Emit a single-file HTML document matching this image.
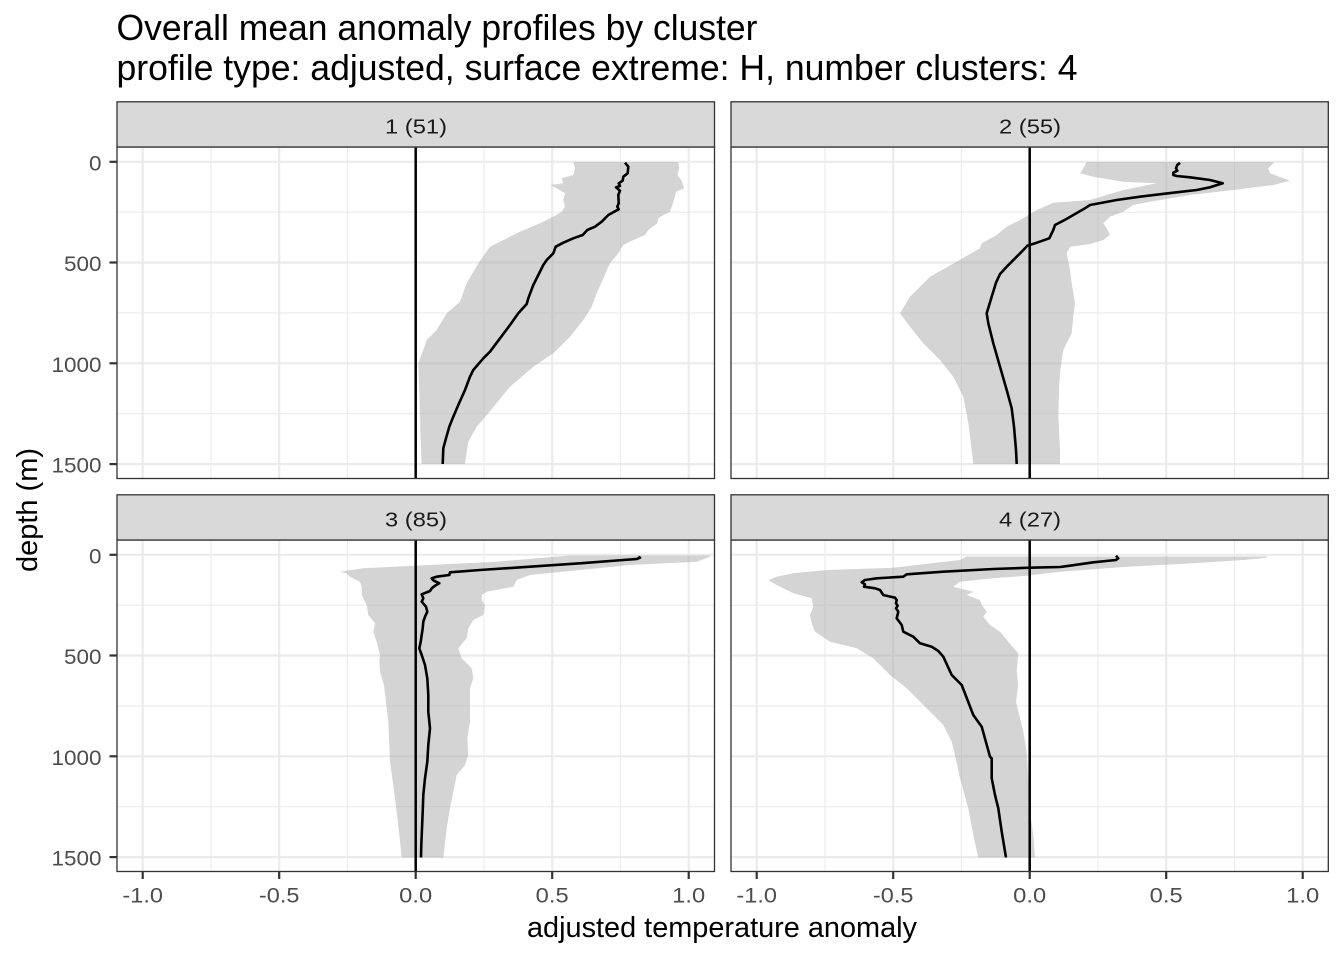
<!DOCTYPE html>
<html><head><meta charset="utf-8"><style>
html,body{margin:0;padding:0;background:#fff;}
svg{display:block;font-family:"Liberation Sans",Arial,sans-serif;}
</style></head><body>
<svg width="1344" height="960" viewBox="0 0 1344 960" xmlns="http://www.w3.org/2000/svg">
<defs>
<g id="grid">
  <rect x="117" y="147" width="597.5" height="331.5" fill="#fff"/>
  <g stroke="#ebebeb" stroke-width="1.1">
    <line x1="117" x2="714.5" y1="212.2" y2="212.2"/>
    <line x1="117" x2="714.5" y1="312.9" y2="312.9"/>
    <line x1="117" x2="714.5" y1="413.7" y2="413.7"/>
    <line y1="147" y2="478.5" x1="210.95" x2="210.95"/>
    <line y1="147" y2="478.5" x1="347.45" x2="347.45"/>
    <line y1="147" y2="478.5" x1="484" x2="484"/>
    <line y1="147" y2="478.5" x1="620.5" x2="620.5"/>
  </g>
  <g stroke="#ebebeb" stroke-width="2.2">
    <line x1="117" x2="714.5" y1="161.8" y2="161.8"/>
    <line x1="117" x2="714.5" y1="262.5" y2="262.5"/>
    <line x1="117" x2="714.5" y1="363.3" y2="363.3"/>
    <line x1="117" x2="714.5" y1="464.1" y2="464.1"/>
    <line y1="147" y2="478.5" x1="142.7" x2="142.7"/>
    <line y1="147" y2="478.5" x1="279.2" x2="279.2"/>
    <line y1="147" y2="478.5" x1="415.7" x2="415.7"/>
    <line y1="147" y2="478.5" x1="552.2" x2="552.2"/>
    <line y1="147" y2="478.5" x1="688.7" x2="688.7"/>
  </g>
</g>
</defs>

<!-- Title -->
<text x="116.5" y="40" font-size="36" fill="#000" textLength="641" lengthAdjust="spacingAndGlyphs">Overall mean anomaly profiles by cluster</text>
<text x="116.5" y="80" font-size="36" fill="#000" textLength="961" lengthAdjust="spacingAndGlyphs">profile type: adjusted, surface extreme: H, number clusters: 4</text>

<!-- Panel backgrounds + grids -->
<use href="#grid"/>
<use href="#grid" transform="translate(614,0)"/>
<use href="#grid" transform="translate(0,393)"/>
<use href="#grid" transform="translate(614,393)"/>

<!-- Ribbons -->
<g fill="#aaaaaa" fill-opacity="0.5" stroke="none">
<polygon points="573.3,162 678.3,162 678.3,163.3 679.3,168.3 677.3,175 681.7,180.7 684.3,188.3 676,191.7 674,200 670,211.7 663.3,215 658.3,218.3 657.3,223.3 648.3,230 645,235 633.3,240 623.3,245 618.3,253.3 610,263.3 603.3,278.3 596.7,293.3 591.7,306.7 583.3,320 570,336.7 553.3,353.3 533.3,366.7 510,386.7 488.3,413.3 476.7,426.7 468.3,441.7 465,464 421.7,464 420.7,443.3 420,416.7 419.3,390 418.3,363.3 423.3,350 426.7,340 436.7,330 446.7,313.3 460,301.7 466.7,283.3 478.3,263.3 490,246.7 500,241.7 520,231.7 540,223.3 553.3,216.7 561.7,211.7 565,206.7 563.3,200 565,193.3 556.7,188.3 550,185 563.3,183.3 561.7,178.3 573.3,175 575,168.3"/>
<polygon points="1086.7,162 1273.3,162 1273.3,163.3 1268.3,168.3 1270,173.3 1290,180.7 1273.3,185 1233.3,190 1190,195 1150,201.7 1133.3,205 1123.3,211.7 1110,216.7 1103.3,223.3 1106.7,228.3 1110,235 1103.3,240 1090,244 1070,246.7 1066.7,253.3 1070,270 1071.7,283.3 1075,303.3 1073.3,316.7 1071.7,333.3 1063.3,350 1060.7,366.7 1059.3,383.3 1058.3,416.7 1060,450 1060,464 973.3,464 971.7,450 968.3,423.3 963.3,396.7 953.3,376.7 940,360 923.3,343.3 910,326.7 900,313.3 910,296.7 930,276.7 956.7,261.7 980,248.3 981.7,243.3 996.7,235 1006.7,226.7 1023.3,218.3 1036.7,210 1053.3,202.7 1090,200 1123.3,190 1156.7,183.3 1123.3,181.7 1093.3,176.7 1080,173.3 1083.3,168.3"/>
<polygon points="570,555.5 710,555.5 710,556.7 696.7,561.7 630,565 580,570 530,575 516.7,580 513.3,586.7 486.7,591.7 481.7,595 481.7,600 485,605 483.3,615 473.3,620 468.3,628.3 466.7,638.3 458.3,648.3 461.7,658.3 471.7,668.3 473.3,678.3 470,688.3 470,705 470,721.7 467.3,738.3 468.3,755 465,765 456.7,775 453.3,791.7 450,808.3 446.7,828.3 443.3,857.5 401.7,857.5 399.3,835 396.7,811.7 393.3,785 390,761.7 389.3,745 388.3,721.7 386,701.7 384,685 380,671.7 379.3,661.7 380,655 376.7,641.7 373.3,631.7 375,623.3 368.3,615 366.7,605 361.7,595 361.7,586.7 360,581.7 350,576.7 346.7,573.3 340,571.7 363.3,568.3 430,565 496.7,561.7"/>
<polygon points="966.7,556.5 1266.7,556.5 1266.7,557.7 1243.3,560 1193.3,563.3 1126.7,566.7 1060,571.7 1026.7,575.7 993.3,578.3 960,581.7 953.3,586.7 973.3,591.7 966.7,595 980,600 981.7,605 986.7,611.7 983.3,616.7 990,625 1000,631.7 1008.3,641.7 1018.3,653.3 1016.7,671.7 1018.3,685 1016,701.7 1020,718.3 1023.3,731.7 1026.7,751.7 1028.3,778.3 1030,811.7 1033.3,835 1035,857.5 978.3,857.5 973.3,835 968.3,808.3 960,778.3 955,755 951.7,741.7 943.3,725 926.7,708.3 906.7,688.3 890,675 873.3,658.3 856.7,648.3 843.3,645 830,641.7 815,631.7 811.7,623.3 810,615 813.3,606.7 811.7,598.3 793.3,593.3 776.7,585 768.3,580 776.7,576.7 793.3,573.3 826.7,570 893.3,567.7 960,560"/>
</g>

<!-- zero lines -->
<g stroke="#000" stroke-width="2.5">
<line x1="415.7" x2="415.7" y1="147" y2="478.5"/>
<line x1="1029.7" x2="1029.7" y1="147" y2="478.5"/>
<line x1="415.7" x2="415.7" y1="540" y2="871.5"/>
<line x1="1029.7" x2="1029.7" y1="540" y2="871.5"/>
</g>

<!-- mean lines -->
<g fill="none" stroke="#000" stroke-width="2.6" stroke-linejoin="round" stroke-linecap="butt">
<polyline points="625,162.7 628.3,166.7 627.7,173.3 623.3,176.7 622.7,180.7 618.7,183.3 620,186 616,187.3 620,190.7 618.3,195 618.7,203.3 617.3,206.7 618.7,209.3 615,211.3 608.3,215 601.7,221.7 595,226.7 587.3,230 582.7,235 573.3,238.3 563.3,242.7 555.7,246.7 553.3,253.3 546.7,260 543.3,265 538.3,275 533.3,285 528.3,298.3 526.7,304 518.3,313.3 510,325 500,338.3 490,351.7 483.3,358.3 473.3,370 470,376.7 465,390 458.3,405 453.3,416.7 449.3,426.7 446,438.3 443.3,448.3 442.7,464"/>
<polyline points="1180,162.7 1177.3,165 1176,168.3 1177.3,170.7 1173.3,172.7 1173.3,175 1176.7,176 1190,177.3 1210,180 1222.7,183.3 1210,187.3 1196.7,190 1173.3,192.7 1140,196.7 1116.7,200 1090,205 1083.3,209.3 1073.3,215 1063.3,220.7 1055,225 1053.3,230 1049.3,238.3 1036.7,242.7 1027.3,245.7 1025,248.3 1016.7,256.7 1006.7,266.7 1000,274 996,282.7 991.7,296.7 986.7,313.3 988.3,323.3 993.3,343.3 1000,366.7 1006.7,390 1011.7,408.3 1014,426.7 1016,450 1016.7,464"/>
<polyline points="638.3,556.7 640,557.7 636.7,559 623.3,560 580,563.3 530,566.7 480,570 450,572.3 449.3,575 436.7,576.7 431.7,578.3 433.3,580.3 439.3,583.3 435,585.7 431.7,588.3 430,591 421.7,594.3 423.3,598.3 421.7,601.7 426,606.7 427.3,611.7 425,616.7 423.3,621.7 422.7,628.3 421.7,635 420.7,641.7 419.3,648.3 421.7,655 425,665 427.3,678.3 428.3,695 428.3,711.7 430,728.3 428.3,745 427.3,761.7 425,778.3 423.3,795 422.7,811.7 422,828.3 421.3,845 421,857.5"/>
<polyline points="1116,555.7 1118.3,558.3 1116,560 1093.3,562.3 1070,565.7 1060,567 1030,567.7 993.3,569 943.3,571.7 906.7,574.3 903.3,576.7 876.7,578.3 865,580 861.7,582.3 865,584.3 864,586.7 875,588.3 880,590 883.3,595 895,597.7 896.7,600 896,603.3 897.7,605.7 896,608.3 898.3,611.7 896.7,618.3 901.7,625 903.3,631.7 913.3,636.7 920,643.3 931.7,646.7 938.3,651 943.3,656.7 951.7,675 961.7,685 973.3,715 981.7,726.7 990,756.7 991.7,758.3 991.7,778.3 995,795 998.3,808.3 1001.7,831.7 1006,857.5"/>
</g>

<!-- panel borders -->
<g fill="none" stroke="#333" stroke-width="1.3">
<rect x="117" y="147" width="597.5" height="331.5"/>
<rect x="731" y="147" width="597.3" height="331.5"/>
<rect x="117" y="540" width="597.5" height="331.5"/>
<rect x="731" y="540" width="597.3" height="331.5"/>
</g>

<!-- strips -->
<g fill="#d9d9d9" stroke="#333" stroke-width="1.3">
<rect x="117" y="101.8" width="597.5" height="45.2"/>
<rect x="731" y="101.8" width="597.3" height="45.2"/>
<rect x="117" y="494.8" width="597.5" height="45.2"/>
<rect x="731" y="494.8" width="597.3" height="45.2"/>
</g>
<g font-size="20.5" fill="#1a1a1a" text-anchor="middle">
<text x="416" y="133.3" textLength="62" lengthAdjust="spacingAndGlyphs">1 (51)</text>
<text x="1030" y="133.3" textLength="62" lengthAdjust="spacingAndGlyphs">2 (55)</text>
<text x="416" y="526.3" textLength="62" lengthAdjust="spacingAndGlyphs">3 (85)</text>
<text x="1030" y="526.3" textLength="62" lengthAdjust="spacingAndGlyphs">4 (27)</text>
</g>

<!-- y axis ticks -->
<g stroke="#333" stroke-width="2.2">
<line x1="109.5" x2="117" y1="161.8" y2="161.8"/>
<line x1="109.5" x2="117" y1="262.5" y2="262.5"/>
<line x1="109.5" x2="117" y1="363.3" y2="363.3"/>
<line x1="109.5" x2="117" y1="464.1" y2="464.1"/>
<line x1="109.5" x2="117" y1="554.8" y2="554.8"/>
<line x1="109.5" x2="117" y1="655.5" y2="655.5"/>
<line x1="109.5" x2="117" y1="756.3" y2="756.3"/>
<line x1="109.5" x2="117" y1="857.1" y2="857.1"/>
</g>
<g font-size="21" fill="#4d4d4d" text-anchor="end">
<text x="101.5" y="170.3" textLength="12.5" lengthAdjust="spacingAndGlyphs">0</text>
<text x="101.5" y="271" textLength="37.5" lengthAdjust="spacingAndGlyphs">500</text>
<text x="101.5" y="371.8" textLength="50" lengthAdjust="spacingAndGlyphs">1000</text>
<text x="101.5" y="472.6" textLength="50" lengthAdjust="spacingAndGlyphs">1500</text>
<text x="101.5" y="563.3" textLength="12.5" lengthAdjust="spacingAndGlyphs">0</text>
<text x="101.5" y="664" textLength="37.5" lengthAdjust="spacingAndGlyphs">500</text>
<text x="101.5" y="764.8" textLength="50" lengthAdjust="spacingAndGlyphs">1000</text>
<text x="101.5" y="865.6" textLength="50" lengthAdjust="spacingAndGlyphs">1500</text>
</g>

<!-- x axis ticks -->
<g stroke="#333" stroke-width="2.2">
<line y1="871.5" y2="879" x1="142.7" x2="142.7"/>
<line y1="871.5" y2="879" x1="279.2" x2="279.2"/>
<line y1="871.5" y2="879" x1="415.7" x2="415.7"/>
<line y1="871.5" y2="879" x1="552.2" x2="552.2"/>
<line y1="871.5" y2="879" x1="688.7" x2="688.7"/>
<line y1="871.5" y2="879" x1="756.7" x2="756.7"/>
<line y1="871.5" y2="879" x1="893.2" x2="893.2"/>
<line y1="871.5" y2="879" x1="1029.7" x2="1029.7"/>
<line y1="871.5" y2="879" x1="1166.2" x2="1166.2"/>
<line y1="871.5" y2="879" x1="1302.7" x2="1302.7"/>
</g>
<g font-size="21" fill="#4d4d4d" text-anchor="middle">
<text x="142.7" y="902.7" textLength="40.5" lengthAdjust="spacingAndGlyphs">-1.0</text>
<text x="279.2" y="902.7" textLength="40.5" lengthAdjust="spacingAndGlyphs">-0.5</text>
<text x="415.7" y="902.7" textLength="33" lengthAdjust="spacingAndGlyphs">0.0</text>
<text x="552.2" y="902.7" textLength="33" lengthAdjust="spacingAndGlyphs">0.5</text>
<text x="688.7" y="902.7" textLength="33" lengthAdjust="spacingAndGlyphs">1.0</text>
<text x="756.7" y="902.7" textLength="40.5" lengthAdjust="spacingAndGlyphs">-1.0</text>
<text x="893.2" y="902.7" textLength="40.5" lengthAdjust="spacingAndGlyphs">-0.5</text>
<text x="1029.7" y="902.7" textLength="33" lengthAdjust="spacingAndGlyphs">0.0</text>
<text x="1166.2" y="902.7" textLength="33" lengthAdjust="spacingAndGlyphs">0.5</text>
<text x="1302.7" y="902.7" textLength="33" lengthAdjust="spacingAndGlyphs">1.0</text>
</g>

<!-- axis titles -->
<text x="722" y="937" font-size="29" fill="#000" text-anchor="middle" textLength="390" lengthAdjust="spacingAndGlyphs">adjusted temperature anomaly</text>
<text x="0" y="0" font-size="29" fill="#000" text-anchor="middle" textLength="124" lengthAdjust="spacingAndGlyphs" transform="translate(37,510) rotate(-90)">depth (m)</text>
</svg>
</body></html>
